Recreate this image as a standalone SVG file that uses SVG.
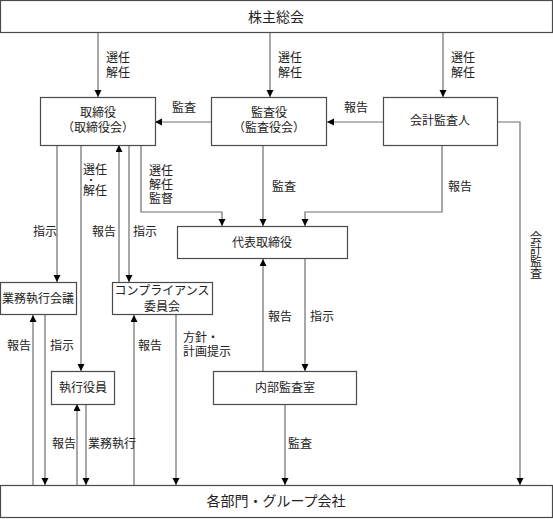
<svg xmlns="http://www.w3.org/2000/svg" width="553" height="519" viewBox="0 0 553 519">
<style>
.box{fill:#fff;stroke:#4a4a4a;stroke-width:1.2}
.ln{fill:none;stroke:#6e6e6e;stroke-width:1.2}
text{font-family:"Noto Sans CJK JP","Noto Sans CJK SC",sans-serif;font-size:12px;fill:#222}
.c{text-anchor:middle}
.big{font-size:14px}
.v{writing-mode:vertical-rl}
</style>
<defs>
<marker id="ah" markerUnits="userSpaceOnUse" markerWidth="8" markerHeight="8" refX="7" refY="3.5" orient="auto">
<path d="M0,0 L7,3.5 L0,7 z" fill="#000"/>
</marker>
</defs>
<rect width="553" height="519" fill="#fff"/>
<g id="connectors" marker-end="url(#ah)">
<path class="ln" d="M98,33 V97"/>
<path class="ln" d="M270,33 V97"/>
<path class="ln" d="M443,33 V97"/>
<path class="ln" d="M212,122 H155"/>
<path class="ln" d="M383,122 H327"/>
<path class="ln" d="M497,122 H520 V485"/>
<path class="ln" d="M57,145 V282"/>
<path class="ln" d="M81,145 V371"/>
<path class="ln" d="M119,282 V145"/>
<path class="ln" d="M129,145 V282"/>
<path class="ln" d="M141,145 V212 H222 V226"/>
<path class="ln" d="M263,145 V226"/>
<path class="ln" d="M442,145 V212 H305 V226"/>
<path class="ln" d="M263,371 V259"/>
<path class="ln" d="M305,259 V371"/>
<path class="ln" d="M33,485 V315"/>
<path class="ln" d="M45,315 V485"/>
<path class="ln" d="M77,485 V404"/>
<path class="ln" d="M86,404 V485"/>
<path class="ln" d="M134,485 V315"/>
<path class="ln" d="M176,315 V485"/>
<path class="ln" d="M285,404 V485"/>
</g>
<g id="labels">
<text x="106" y="62">選任<tspan x="106" y="77">解任</tspan></text>
<text x="278" y="62">選任<tspan x="278" y="77">解任</tspan></text>
<text x="451" y="62">選任<tspan x="451" y="77">解任</tspan></text>
<text x="172" y="112">監査</text>
<text x="344" y="112">報告</text>
<text x="83" y="174">選任<tspan x="86" y="184" style="font-size:10px">・</tspan><tspan x="83" y="195">解任</tspan></text>
<text x="149" y="175">選任<tspan x="149" y="189">解任</tspan><tspan x="149" y="203">監督</tspan></text>
<text x="272" y="191">監査</text>
<text x="448" y="191">報告</text>
<text x="33" y="236">指示</text>
<text x="92" y="236">報告</text>
<text x="133" y="236">指示</text>
<text x="268" y="321">報告</text>
<text x="310" y="321">指示</text>
<text class="v" x="536" y="231">会計監査</text>
<text x="7" y="350">報告</text>
<text x="50" y="350">指示</text>
<text x="138" y="350">報告</text>
<text x="183" y="342">方針・<tspan x="183" y="356">計画提示</tspan></text>
<text x="52" y="448">報告</text>
<text x="88" y="448">業務執行</text>
<text x="288" y="448">監査</text>
</g>
<g id="n-shareholders"><rect class="box" x="0.5" y="0.5" width="552" height="32"/><text class="c big" x="276" y="22">株主総会</text></g>
<g id="n-board"><rect class="box" x="40.5" y="97.5" width="115" height="48"/><text class="c" x="98" y="117">取締役<tspan x="98" y="132">（取締役会）</tspan></text></g>
<g id="n-auditors"><rect class="box" x="211.5" y="97.5" width="115" height="48"/><text class="c" x="269" y="117">監査役<tspan x="269" y="132">（監査役会）</tspan></text></g>
<g id="n-accounting"><rect class="box" x="383.5" y="97.5" width="114" height="48"/><text class="c" x="440" y="125">会計監査人</text></g>
<g id="n-ceo"><rect class="box" x="177.5" y="226.5" width="170" height="32"/><text class="c" x="262" y="247">代表取締役</text></g>
<g id="n-exec-meeting"><rect class="box" x="0.5" y="282.5" width="76" height="32"/><text class="c" x="38" y="303">業務執行会議</text></g>
<g id="n-compliance"><rect class="box" x="112.5" y="282.5" width="100" height="32"/><text class="c" x="162" y="295">コンプライアンス<tspan x="162" y="311">委員会</tspan></text></g>
<g id="n-officers"><rect class="box" x="51.5" y="371.5" width="63" height="33"/><text class="c" x="83" y="392">執行役員</text></g>
<g id="n-internal-audit"><rect class="box" x="213.5" y="371.5" width="143" height="33"/><text class="c" x="285" y="392">内部監査室</text></g>
<g id="n-divisions"><rect class="box" x="0.5" y="485.5" width="552" height="32"/><text class="c big" x="276" y="506">各部門・グループ会社</text></g>
</svg>
